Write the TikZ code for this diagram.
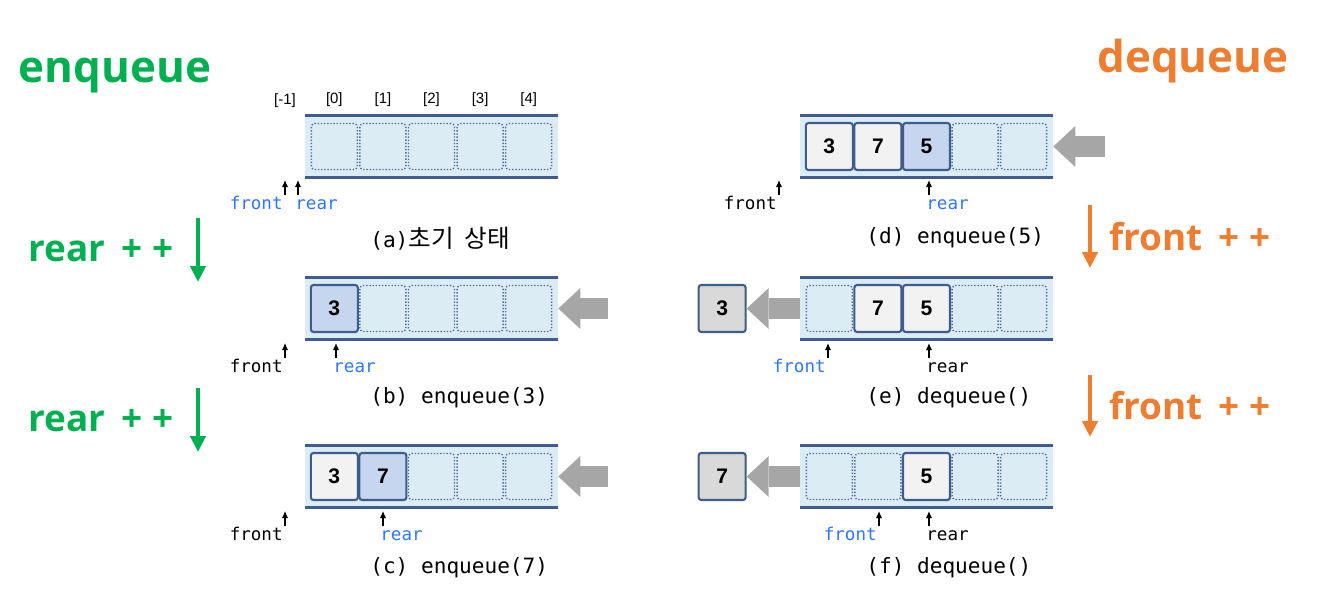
\documentclass[tikz,border=0pt]{standalone}
\usepackage{fontspec}
\setmainfont{Liberation Sans}
\setmonofont{DejaVu Sans Mono}
\newfontfamily\cjk{Noto Sans CJK KR}
\newfontfamily\headfont{Open Sans}
\usetikzlibrary{positioning,arrows.meta}

\definecolor{stepgreen}{RGB}{0,176,80}
\definecolor{steporange}{RGB}{237,125,49}
\definecolor{bandfill}{RGB}{220,236,244}
\definecolor{bandline}{RGB}{62,93,138}
\definecolor{slotline}{RGB}{80,110,158}
\definecolor{newfill}{RGB}{198,214,238}
\definecolor{oldfill}{RGB}{242,242,242}
\definecolor{outfill}{RGB}{217,217,217}
\definecolor{pushgrey}{RGB}{166,166,166}
\definecolor{ptrblue}{RGB}{48,118,250}

\tikzset{
  band/.style={fill=bandfill, minimum width=5.06cm, minimum height=1.22cm, inner sep=0},
  bandedge/.style={draw=bandline, line width=0.06cm},
  slot/.style={draw=slotline, densely dotted, thick, rounded corners=2pt, minimum size=0.92cm, inner sep=0},
  item/.style={draw=bandline, line width=1.2pt, rounded corners=1.5pt, minimum size=0.94cm, inner sep=0, font=\fontsize{12}{12}\selectfont\bfseries},
  olditem/.style={item, fill=oldfill},
  newitem/.style={item, fill=newfill},
  outitem/.style={item, fill=outfill},
  idx/.style={inner sep=0, font=\fontsize{8.5}{8.5}\selectfont},
  ptr/.style={-{Latex[length=4pt,width=3.5pt]}, line width=0.6pt},
  ptrlbl/.style={inner sep=0, font=\ttfamily\fontsize{10}{10}\selectfont},
  caption/.style={anchor=west, inner sep=0, font=\ttfamily\fontsize{12}{12}\selectfont},
  push/.style={draw=pushgrey, line width=0.42cm, -{Triangle[length=0.44cm,width=0.82cm,line width=0pt]}},
  title/.style={inner sep=0, font=\headfont\bfseries\fontsize{25}{25}\selectfont},
  steplbl/.style={inner sep=0, font=\headfont\bfseries\fontsize{21}{21}\selectfont},
  stepline/.style={line width=0.08cm, -{Triangle[length=0.32cm,width=0.3cm]}},
}

\begin{document}
\begin{tikzpicture}[x=0.02cm, y=-0.02cm]
	\useasboundingbox (0,0) rectangle (1324,611);

	% Titles
	\node[title, text=stepgreen] (enq) at (115,76) {enqueue};
	\node[title, text=steporange] (deq) at (1193,61) {dequeue};

	% Queue bands
	\node[band] (qa) at (431.5,146.5) {};
	\node[band] (qb) at (431.5,308.5) {};
	\node[band] (qc) at (431.5,476.5) {};
	\node[band] (qd) at (926.5,146.5) {};
	\node[band] (qe) at (926.5,308.5) {};
	\node[band] (qf) at (926.5,476.5) {};

	% Edges of each band and its empty slots
	\foreach \q in {qa,qb,qc,qd,qe,qf} {
		\draw[bandedge] (\q.north west) -- (\q.north east) (\q.south west) -- (\q.south east);
		\foreach \i in {0,...,4}
			\node[slot, xshift={(\i-2)*0.972cm}] (\q-\i) at (\q) {};
	}

	% Indices over the first queue
	\node[idx] (qa-m1) at (285,101) {[-1]};
	\foreach \i in {0,...,4}
		\node[idx, above=0.32cm of qa-\i] (qa-i\i) {[\i]};

	% Stored items
	\node[newitem] (qb-v0) at (qb-0) {3};
	\node[olditem] (qc-v0) at (qc-0) {3};
	\node[newitem] (qc-v1) at (qc-1) {7};
	\node[olditem] (qd-v0) at (qd-0) {3};
	\node[olditem] (qd-v1) at (qd-1) {7};
	\node[newitem] (qd-v2) at (qd-2) {5};
	\node[olditem] (qe-v1) at (qe-1) {7};
	\node[olditem] (qe-v2) at (qe-2) {5};
	\node[olditem] (qf-v2) at (qf-2) {5};

	% Removed items
	\node[outitem, left=1.06cm of qe] (qe-out) {3};
	\node[outitem, left=1.06cm of qf] (qf-out) {7};

	% Grey arrows in and out
	\coordinate[right=1cm of qb] (qb-in);
	\coordinate[right=1cm of qc] (qc-in);
	\coordinate[right=1.04cm of qd] (qd-in);
	\draw[push] (qb-in) -- (qb);
	\draw[push] (qc-in) -- (qc);
	\draw[push] (qd-in) -- (qd);
	\draw[push] (qe) -- (qe-out);
	\draw[push] (qf) -- (qf-out);

	% front pointers
	\foreach \n/\px/\py/\c in {a/285/180/ptrblue, b/285/343/black, c/285/511/black,
			d/779/180/black, e/828/343/ptrblue, f/879/511/ptrblue} {
		\coordinate (front-\n) at (\px,\py);
		\node[ptrlbl, text=\c, anchor=base east, xshift=-0.04cm, yshift=-0.6cm] (front-\n-l) at (front-\n) {front};
		\draw[ptr] ([yshift=-0.3cm]front-\n) -- (front-\n);
	}
	% rear pointers
	\foreach \n/\px/\py/\c in {a/298/180/ptrblue, b/336/343/ptrblue, c/383/511/ptrblue,
			d/929/180/ptrblue, e/929/343/black, f/929/511/black} {
		\coordinate (rear-\n) at (\px,\py);
		\node[ptrlbl, text=\c, anchor=base west, xshift=-0.06cm, yshift=-0.6cm] (rear-\n-l) at (rear-\n) {rear};
		\draw[ptr] ([yshift=-0.3cm]rear-\n) -- (rear-\n);
	}

	% Captions
	\node[caption] (cap-a) at (370,239) {(a){\cjk\fontsize{14}{14}\selectfont 초기\ \ 상태}};
	\node[caption] (cap-b) at (370,398) {(b) enqueue(3)};
	\node[caption] (cap-c) at (370,568) {(c) enqueue(7)};
	\node[caption] (cap-d) at (866,238) {(d) enqueue(5)};
	\node[caption] (cap-e) at (866,398) {(e) dequeue()};
	\node[caption] (cap-f) at (866,568) {(f) dequeue()};

	% Steps: rear ++
	\node[steplbl, text=stepgreen] (inc-b) at (101,251) {rear\, +\;+};
	\node[steplbl, text=stepgreen] (inc-c) at (101,421) {rear\, +\;+};
	\coordinate (inc-b-top) at (198,218);
	\coordinate (inc-b-bot) at (198,282);
	\coordinate (inc-c-top) at (198,388);
	\coordinate (inc-c-bot) at (198,452);
	\draw[stepline, stepgreen] (inc-b-top) -- (inc-b-bot);
	\draw[stepline, stepgreen] (inc-c-top) -- (inc-c-bot);

	% Steps: front ++
	\node[steplbl, text=steporange] (inc-e) at (1190,237) {front\, +\;+};
	\node[steplbl, text=steporange] (inc-f) at (1190,406) {front\, +\;+};
	\coordinate (inc-e-top) at (1090,205);
	\coordinate (inc-e-bot) at (1090,268);
	\coordinate (inc-f-top) at (1090,375);
	\coordinate (inc-f-bot) at (1090,437);
	\draw[stepline, steporange] (inc-e-top) -- (inc-e-bot);
	\draw[stepline, steporange] (inc-f-top) -- (inc-f-bot);
\end{tikzpicture}
\end{document}
